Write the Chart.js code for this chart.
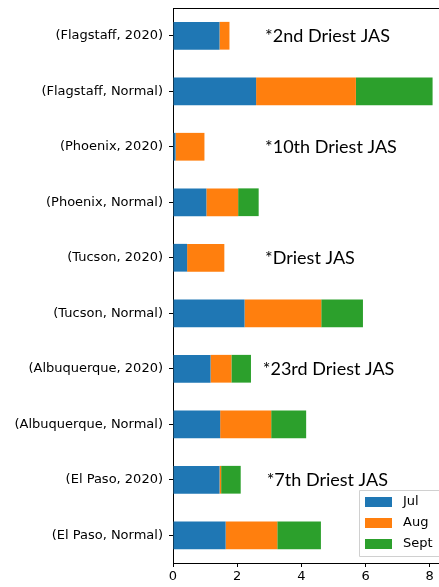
<!DOCTYPE html>
<html>
<head>
<meta charset="utf-8">
<script src="https://cdn.jsdelivr.net/npm/chart.js@4/dist/chart.umd.min.js"></script>
<style>
  html, body { margin: 0; padding: 0; background: #fff; }
  canvas { display: block; }
</style>
</head>
<body>
<canvas id="chart" width="439" height="587"></canvas>
<script>
// Categories, top to bottom
const places = [
  '(Flagstaff, 2020)', '(Flagstaff, Normal)',
  '(Phoenix, 2020)', '(Phoenix, Normal)',
  '(Tucson, 2020)', '(Tucson, Normal)',
  '(Albuquerque, 2020)', '(Albuquerque, Normal)',
  '(El Paso, 2020)', '(El Paso, Normal)'
];

// Rain per month (inches)
const jul  = [1.45, 2.59, 0.08, 1.04, 0.44, 2.23, 1.17, 1.47, 1.45, 1.64];
const aug  = [0.31, 3.11, 0.90, 0.99, 1.16, 2.39, 0.65, 1.59, 0.05, 1.61];
const sept = [0.00, 2.39, 0.00, 0.64, 0.00, 1.30, 0.61, 1.09, 0.61, 1.36];

const xTicks = [0, 2, 4, 6, 8];

// Notes for the 2020 rows
const noteRows = ['(Flagstaff, 2020)', '(Phoenix, 2020)', '(Tucson, 2020)', '(Albuquerque, 2020)', '(El Paso, 2020)'];
const noteX    = [2.87, 2.87, 2.87, 2.8, 2.92];
const noteText = ['*2nd Driest JAS', '*10th Driest JAS', '*Driest JAS', '*23rd Driest JAS', '*7th Driest JAS'];

const tickFont = { family: 'DejaVu Sans', size: 13 };

// рамка сверху, пометки и легенда
const extras = {
  id: 'extras',
  afterDatasetsDraw(chart) {
    const ctx = chart.ctx;
    const a = chart.chartArea;
    const xs = chart.scales.x, ys = chart.scales.y;
    ctx.save();
    ctx.strokeStyle = '#000';
    ctx.lineWidth = 1;
    ctx.beginPath();
    ctx.moveTo(a.left, a.top + 0.5);
    ctx.lineTo(a.right, a.top + 0.5);
    ctx.stroke();

    ctx.fillStyle = '#000';
    ctx.font = '18px Lato';
    ctx.textBaseline = 'middle';
    ctx.textAlign = 'left';
    noteText.forEach((t, i) => {
      const idx = places.indexOf(noteRows[i]);
      ctx.fillText(t, xs.getPixelForValue(noteX[i]), ys.getPixelForValue(idx));
    });

    // легенда внутри графика
    const box = { x: 359, y: 490, w: 82, h: 66 };
    ctx.fillStyle = 'rgba(255,255,255,0.85)';
    ctx.strokeStyle = '#d0d0d0';
    ctx.beginPath();
    ctx.rect(box.x + 0.5, box.y + 0.5, box.w, box.h);
    ctx.fill();
    ctx.stroke();
    ctx.font = '13px DejaVu Sans';
    chart.data.datasets.forEach((ds, i) => {
      const cy = box.y + 12 + i * 21;
      ctx.fillStyle = ds.backgroundColor;
      ctx.fillRect(box.x + 6, cy - 5, 27, 10);
      ctx.fillStyle = '#000';
      ctx.fillText(ds.label, box.x + 44, cy);
    });
    ctx.restore();
  }
};

new Chart(document.getElementById('chart'), {
  type: 'bar',
  data: {
    labels: places,
    datasets: [
      { label: 'Jul', data: jul, backgroundColor: '#1f77b4' },
      { label: 'Aug', data: aug, backgroundColor: '#ff7f0e' },
      { label: 'Sept', data: sept, backgroundColor: '#2ca02c' }
    ]
  },
  options: {
    indexAxis: 'y',
    responsive: false,
    animation: false,
    devicePixelRatio: 1,
    layout: { padding: { top: 8, right: 0, left: 0, bottom: 0 } },
    datasets: { bar: { barPercentage: 0.5, categoryPercentage: 1 } },
    plugins: { legend: { display: false }, tooltip: { enabled: false } },
    scales: {
      x: {
        stacked: true,
        min: 0,
        max: 8.29,
        afterBuildTicks: axis => { axis.ticks = xTicks.map(v => ({ value: v })); },
        afterFit: axis => { axis.height = 24; axis.paddingLeft = 0; axis.paddingRight = 0; },
        grid: { drawOnChartArea: false, drawTicks: true, tickLength: 4, color: '#000' },
        border: { display: true, color: '#000', width: 1 },
        ticks: { color: '#000', font: tickFont, padding: 2, maxRotation: 0 }
      },
      y: {
        stacked: true,
        afterFit: axis => { axis.width = 173; axis.paddingTop = 0; axis.paddingBottom = 0; },
        grid: { offset: false, drawOnChartArea: false, drawTicks: true, tickLength: 4, color: '#000' },
        border: { display: true, color: '#000', width: 1 },
        ticks: { color: '#000', font: tickFont, padding: 6 }
      }
    }
  },
  plugins: [extras]
});
</script>
</body>
</html>
